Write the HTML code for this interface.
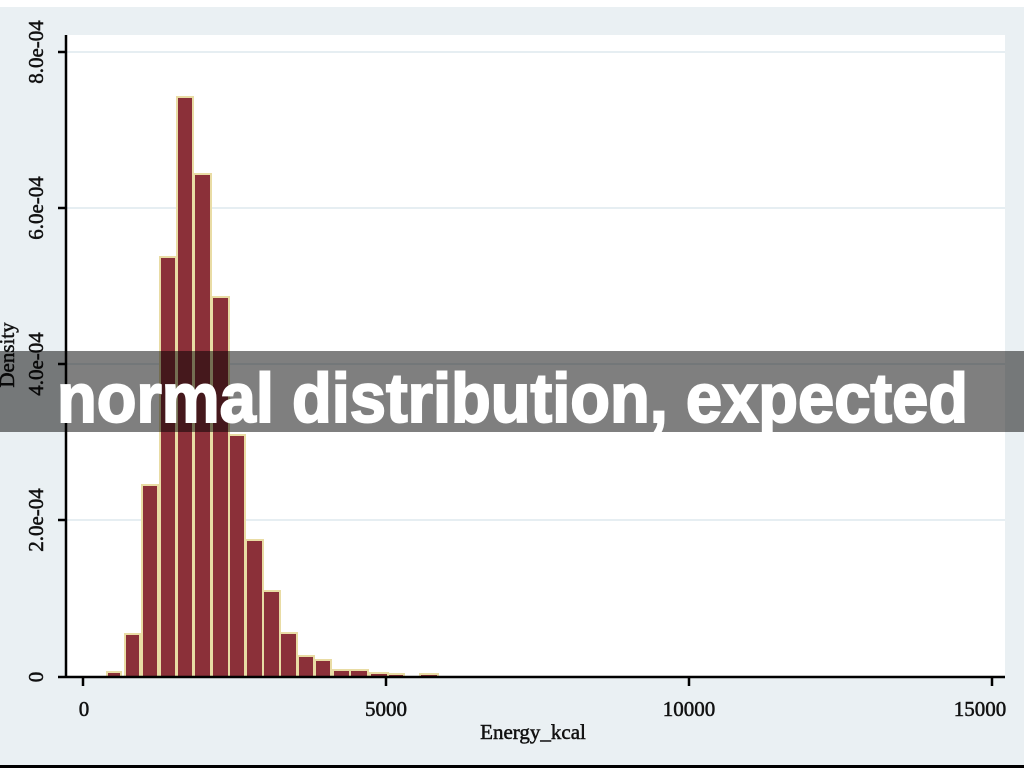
<!DOCTYPE html>
<html><head><meta charset="utf-8"><style>
html,body{margin:0;padding:0;width:1024px;height:768px;overflow:hidden;background:#fff}
</style></head><body>
<svg width="1024" height="768" xmlns="http://www.w3.org/2000/svg">
<rect x="0" y="0" width="1024" height="768" fill="#fff"/>
<rect x="0" y="7" width="1024" height="758" fill="#eaf0f3"/>
<rect x="0" y="765" width="1024" height="3" fill="#000"/>
<rect x="66" y="35" width="939" height="642" fill="#fff"/>
<g stroke="#e6eef2" stroke-width="2">
<line x1="66" y1="52" x2="1005" y2="52"/>
<line x1="66" y1="208" x2="1005" y2="208"/>
<line x1="66" y1="364" x2="1005" y2="364"/>
<line x1="66" y1="520" x2="1005" y2="520"/>
</g>
<g fill="#8b3039" stroke="#e9dca4" stroke-width="2">
<rect x="107" y="672" width="14" height="5"/>
<rect x="125" y="634" width="15" height="43"/>
<rect x="142" y="485" width="16" height="192"/>
<rect x="160" y="257" width="16" height="420"/>
<rect x="177" y="97" width="16" height="580"/>
<rect x="194" y="174" width="17" height="503"/>
<rect x="212" y="297" width="17" height="380"/>
<rect x="229" y="435" width="16" height="242"/>
<rect x="246" y="540" width="17" height="137"/>
<rect x="263" y="591" width="17" height="86"/>
<rect x="280" y="633" width="17" height="44"/>
<rect x="298" y="656" width="16" height="21"/>
<rect x="315" y="660" width="16" height="17"/>
<rect x="333" y="670" width="17" height="7"/>
<rect x="350" y="670" width="18" height="7"/>
<rect x="370" y="673" width="18" height="4"/>
<rect x="388" y="674" width="16" height="3"/>
<rect x="420" y="674" width="18" height="3"/>
</g>
<g stroke="#000" stroke-width="2.5">
<line x1="66" y1="35" x2="66" y2="678"/>
<line x1="58" y1="677" x2="1005" y2="677"/>
<line x1="58" y1="52" x2="66" y2="52"/>
<line x1="58" y1="208" x2="66" y2="208"/>
<line x1="58" y1="364" x2="66" y2="364"/>
<line x1="58" y1="520" x2="66" y2="520"/>
<line x1="83" y1="677" x2="83" y2="686"/>
<line x1="386" y1="677" x2="386" y2="686"/>
<line x1="689" y1="677" x2="689" y2="686"/>
<line x1="992" y1="677" x2="992" y2="686"/>
</g>
<g font-family="Liberation Serif, serif" font-size="21" fill="#111" stroke="#111" stroke-width="0.5" text-anchor="middle">
<text transform="translate(43,52) rotate(-90)">8.0e-04</text>
<text transform="translate(43,208) rotate(-90)">6.0e-04</text>
<text transform="translate(43,364) rotate(-90)">4.0e-04</text>
<text transform="translate(43,520) rotate(-90)">2.0e-04</text>
<text transform="translate(43,677) rotate(-90)">0</text>
<text transform="translate(14,355) rotate(-90)">Density</text>
<text x="84" y="716">0</text>
<text x="386" y="716">5000</text>
<text x="689" y="716">10000</text>
<text x="980" y="716">15000</text>
<text x="533" y="739">Energy_kcal</text>
</g>
<rect x="0" y="351" width="1024" height="81" fill="#000" fill-opacity="0.5"/>
<text x="57" y="422" font-family="Liberation Sans, sans-serif" font-weight="bold" font-size="70" fill="#fff" stroke="#fff" stroke-width="2" textLength="911" lengthAdjust="spacingAndGlyphs">normal distribution, expected</text>
</svg>
</body></html>
